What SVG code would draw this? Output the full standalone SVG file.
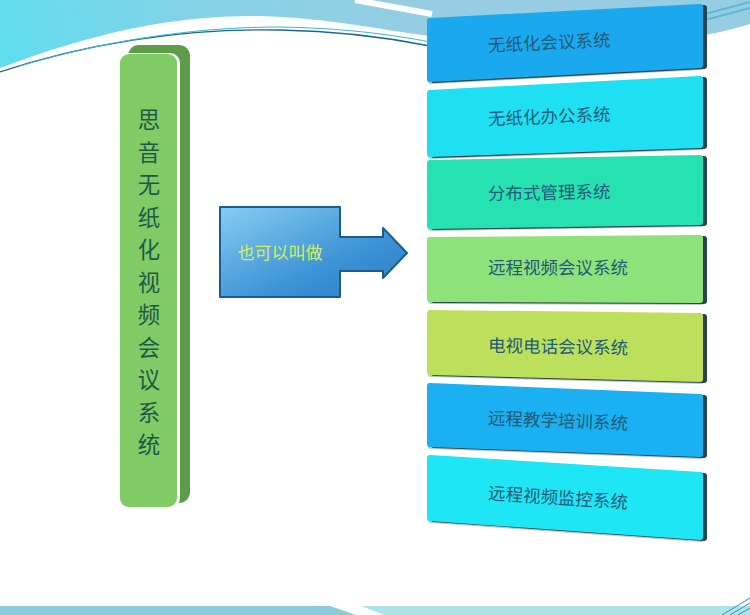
<svg xmlns="http://www.w3.org/2000/svg" width="750" height="615" viewBox="0 0 750 615">
<defs>
<linearGradient id="topg" x1="0" y1="70" x2="420" y2="0" gradientUnits="userSpaceOnUse">
<stop offset="0" stop-color="#5fdcef"/>
<stop offset="0.5" stop-color="#86d2e6"/>
<stop offset="1" stop-color="#96cde2"/>
</linearGradient>
<linearGradient id="arrowg" x1="0" y1="0" x2="1" y2="1">
<stop offset="0" stop-color="#86cdf3"/>
<stop offset="0.6" stop-color="#3e94d6"/>
<stop offset="1" stop-color="#2a7cc4"/>
</linearGradient>
<style>
.box{stroke-width:6;stroke-linejoin:round}
.side{fill:#2b4250;stroke:#2b4250;stroke-width:6;stroke-linejoin:round}
.hl{fill:#b8c8d0;stroke:#b8c8d0;stroke-width:6;stroke-linejoin:round}
.lbl{font-family:"Noto Sans CJK SC","Noto Sans CJK TC",sans-serif;font-size:17.5px;fill:#235a78}
.vt{font-family:"Noto Sans CJK SC","Noto Sans CJK TC",sans-serif;font-size:22.4px;fill:#1d5a48;text-anchor:middle}
</style>
</defs>
<rect width="750" height="615" fill="#ffffff"/>
<!-- top background -->
<path d="M0,0 H750 V24 C700,40 640,45 560,42 C500,40 460,38 430,36 C380,30 330,18 260,16 C180,15 100,30 0,68 Z" fill="url(#topg)"/>
<path d="M0,72 C80,45 180,28 280,30 C340,31 390,38 430,46" fill="none" stroke="#1b6a8c" stroke-width="1.3"/>
<path d="M20,66 C100,42 190,27 280,27 C340,28 390,34 430,42" fill="none" stroke="#3fb8c8" stroke-width="1"/>
<path d="M355,0 L432,14" stroke="#ffffff" stroke-width="6"/>
<path d="M705,14 C720,10 735,6 750,2" stroke="#5ab8d8" stroke-width="2" fill="none"/>
<path d="M705,20 C720,16 735,12 750,8" stroke="#5ab8d8" stroke-width="2" fill="none"/>
<!-- bottom band -->
<path d="M0,606 H330 L356,615 H0 Z" fill="#8ccadc"/>
<path d="M361,606 H750 V615 H384 Z" fill="#ade3e8"/>
<path d="M722,615 L750,598 M730,615 L750,603 M738,615 L750,608" stroke="#3a8fc0" stroke-width="1"/>

<!-- pillar -->
<g id="pillar">
<rect x="128" y="45" width="62" height="458" rx="11" fill="#5e9d48"/>
<rect x="119" y="53" width="61" height="455" rx="10" fill="#ffffff"/>
<rect x="120" y="54" width="57" height="453" rx="9" fill="#81cb66"/>
<text class="vt" x="149" y="128">思</text>
<text class="vt" x="149" y="160.5">音</text>
<text class="vt" x="149" y="193">无</text>
<text class="vt" x="149" y="225.5">纸</text>
<text class="vt" x="149" y="258">化</text>
<text class="vt" x="149" y="290.5">视</text>
<text class="vt" x="149" y="323">频</text>
<text class="vt" x="149" y="355.5">会</text>
<text class="vt" x="149" y="388">议</text>
<text class="vt" x="149" y="420.5">系</text>
<text class="vt" x="149" y="453">统</text>
</g>

<!-- arrow -->
<g id="arrow">
<path d="M220,207 H340 V237 H383 V228 L407,253 L383,278 V271 H340 V297 H220 Z" fill="url(#arrowg)" stroke="#1b5c8c" stroke-width="2" stroke-linejoin="round"/>
<text x="280" y="259" font-family="'Noto Sans CJK SC',sans-serif" font-size="17" fill="#d4ef5e" text-anchor="middle">也可以叫做</text>
</g>

<!-- boxes -->
<g id="box1">
<polygon class="hl" points="431,23 701,9 701,67 431,81"/>
<polygon class="side" points="434,22 704,8 704,66 434,80"/>
<polygon class="box" points="430,21 700,7 700,65 430,79" fill="#1aa9ef" stroke="#1aa9ef"/>
<text class="lbl" x="488" y="49" transform="rotate(-2.5 549 43)">无纸化会议系统</text>
</g>
<g id="box2">
<polygon class="hl" points="431,95 701,81 701,147 431,156"/>
<polygon class="side" points="434,94 704,80 704,146 434,155"/>
<polygon class="box" points="430,93 700,79 700,145 430,154" fill="#1ee0f2" stroke="#1ee0f2"/>
<text class="lbl" x="488" y="123" transform="rotate(-2.2 549 117)">无纸化办公系统</text>
</g>
<g id="box3">
<polygon class="hl" points="431,165 701,160 701,224 431,228"/>
<polygon class="side" points="434,164 704,159 704,223 434,227"/>
<polygon class="box" points="430,163 700,158 700,222 430,226" fill="#26e2b0" stroke="#26e2b0"/>
<text class="lbl" x="488" y="199" transform="rotate(-1 549 193)">分布式管理系统</text>
</g>
<g id="box4">
<polygon class="hl" points="431,242 701,240 701,302 431,301"/>
<polygon class="side" points="434,241 704,239 704,301 434,300"/>
<polygon class="box" points="430,240 700,238 700,300 430,299" fill="#8ee27a" stroke="#8ee27a"/>
<text class="lbl" x="488" y="274">远程视频会议系统</text>
</g>
<g id="box5">
<polygon class="hl" points="431,315 701,318 701,381 431,374"/>
<polygon class="side" points="434,314 704,317 704,380 434,373"/>
<polygon class="box" points="430,313 700,316 700,379 430,372" fill="#bde05c" stroke="#bde05c"/>
<text class="lbl" x="488" y="353" transform="rotate(1 558 347)">电视电话会议系统</text>
</g>
<g id="box6">
<polygon class="hl" points="431,388 701,399 701,456 431,446"/>
<polygon class="side" points="434,387 704,398 704,455 434,445"/>
<polygon class="box" points="430,386 700,397 700,454 430,444" fill="#1ab0f2" stroke="#1ab0f2"/>
<text class="lbl" x="488" y="427" transform="rotate(2.2 558 421)">远程教学培训系统</text>
</g>
<g id="box7">
<polygon class="hl" points="431,460 701,477 701,539 431,520"/>
<polygon class="side" points="434,459 704,476 704,538 434,519"/>
<polygon class="box" points="430,458 700,475 700,537 430,518" fill="#1ee6f4" stroke="#1ee6f4"/>
<text class="lbl" x="488" y="504" transform="rotate(3.8 558 498)">远程视频监控系统</text>
</g>
</svg>
